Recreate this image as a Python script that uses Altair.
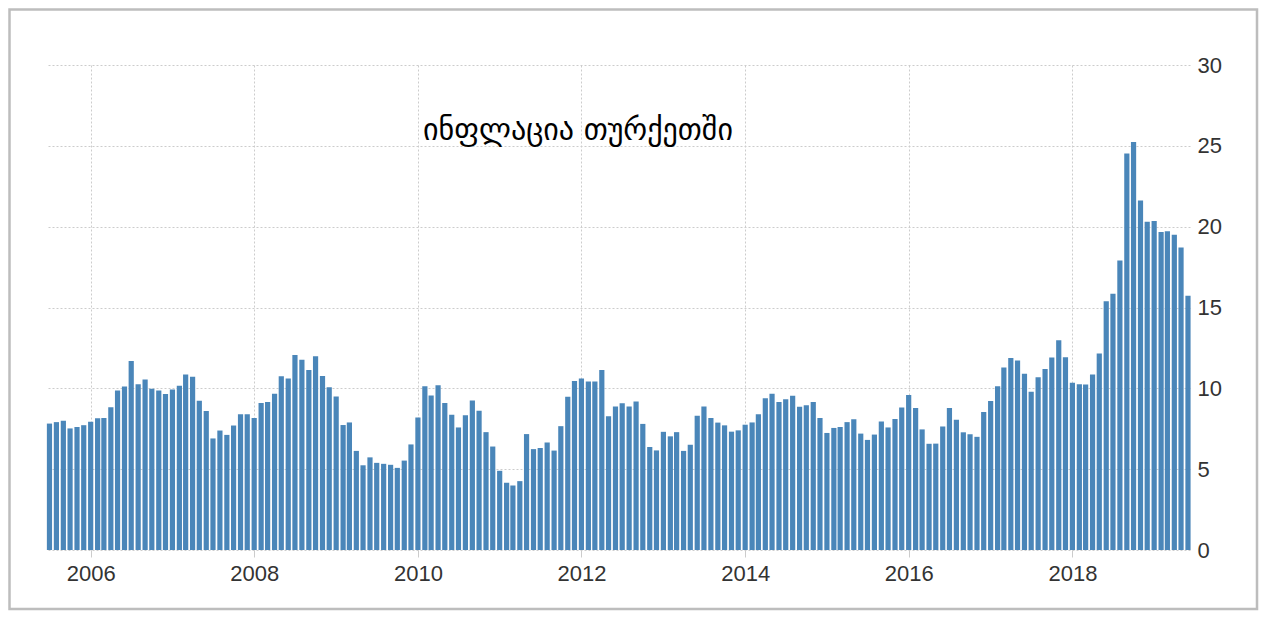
import altair as alt
import pandas as pd

TITLE = "ინფლაცია თურქეთში"

# Monthly annual CPI inflation, Turkey (%), Jul 2005 - Jun 2019
v2005 = [7.82, 7.91, 7.99, 7.52, 7.61, 7.72]
v2006 = [7.93, 8.15, 8.16, 8.83, 9.86, 10.12, 11.69, 10.26, 10.55, 9.98, 9.86, 9.65]
v2007 = [9.93, 10.16, 10.86, 10.72, 9.23, 8.60, 6.90, 7.39, 7.12, 7.70, 8.40, 8.39]
v2008 = [8.17, 9.10, 9.15, 9.66, 10.74, 10.61, 12.06, 11.77, 11.13, 11.99, 10.76, 10.06]
v2009 = [9.50, 7.73, 7.89, 6.13, 5.24, 5.73, 5.39, 5.33, 5.27, 5.08, 5.53, 6.53]
v2010 = [8.19, 10.13, 9.56, 10.19, 9.10, 8.37, 7.58, 8.33, 9.24, 8.62, 7.29, 6.40]
v2011 = [4.90, 4.16, 3.99, 4.26, 7.17, 6.24, 6.31, 6.65, 6.15, 7.66, 9.48, 10.45]
v2012 = [10.61, 10.43, 10.43, 11.14, 8.28, 8.87, 9.07, 8.88, 9.19, 7.80, 6.37, 6.16]
v2013 = [7.31, 7.03, 7.29, 6.13, 6.51, 8.30, 8.88, 8.17, 7.88, 7.71, 7.32, 7.40]
v2014 = [7.75, 7.89, 8.39, 9.38, 9.66, 9.16, 9.32, 9.54, 8.86, 8.96, 9.15, 8.17]
v2015 = [7.24, 7.55, 7.61, 7.91, 8.09, 7.20, 6.81, 7.14, 7.95, 7.58, 8.10, 8.81]
v2016 = [9.58, 8.78, 7.46, 6.57, 6.58, 7.64, 8.79, 8.05, 7.28, 7.16, 7.00, 8.53]
v2017 = [9.22, 10.13, 11.29, 11.87, 11.72, 10.90, 9.79, 10.68, 11.20, 11.90, 12.98, 11.92]
v2018 = [10.35, 10.26, 10.23, 10.85, 12.15, 15.39, 15.85, 17.90, 24.52, 25.24, 21.62, 20.30]
v2019 = [20.35, 19.67, 19.71, 19.50, 18.71, 15.72]

values = (v2005 + v2006 + v2007 + v2008 + v2009 + v2010 + v2011 + v2012 +
          v2013 + v2014 + v2015 + v2016 + v2017 + v2018 + v2019)
months = pd.date_range("2005-07-01", periods=len(values), freq="MS").strftime("%Y-%m-%d").tolist()

year_ticks = [2006, 2008, 2010, 2012, 2014, 2016, 2018]
y_ticks = [0, 5, 10, 15, 20, 25, 30]

df = pd.DataFrame({"date": months, "value": values})

W, H = 1143, 485
FONT = "Liberation Sans"

bars = alt.Chart(df).mark_bar(width=5.2, color="#4a86b9").encode(
    x=alt.X("date:T",
            scale=alt.Scale(domain=["2005-06-20", "2019-06-10"], padding=0),
            axis=alt.Axis(values=[alt.DateTime(year=y, month=1, date=1) for y in year_ticks],
                          format="%Y", title=None, domain=False,
                          tickColor="#cccccc", tickSize=7, labelPadding=6,
                          labelFont=FONT, labelFontSize=22, labelColor="#333333",
                          grid=True, gridColor="#cccccc", gridDash=[2, 2], gridWidth=1)),
    y=alt.Y("value:Q",
            scale=alt.Scale(domain=[0, 30], nice=False),
            axis=alt.Axis(orient="right", values=y_ticks, title=None, domain=False,
                          ticks=False, labelPadding=7,
                          labelFont=FONT, labelFontSize=22, labelColor="#333333",
                          grid=True, gridColor="#cccccc", gridDash=[2, 2], gridWidth=1)),
)

one = pd.DataFrame({"t": [TITLE]})

frame = alt.Chart(one).mark_rect(fillOpacity=0, stroke="#bdbdbd", strokeWidth=2.5).encode(
    x=alt.value(-37.5), x2=alt.value(1210), y=alt.value(-55.5), y2=alt.value(544)
)

title = alt.Chart(one).mark_text(font="DejaVu Sans", fontSize=30, color="#000000",
                                 align="center", baseline="middle").encode(
    text="t:N", x=alt.value(531), y=alt.value(66)
)

chart = alt.layer(frame, bars, title).properties(
    width=W, height=H, padding=0, background="white"
).configure_view(stroke=None)

chart.save("out.html", embed_options={"renderer": "svg", "actions": False})
